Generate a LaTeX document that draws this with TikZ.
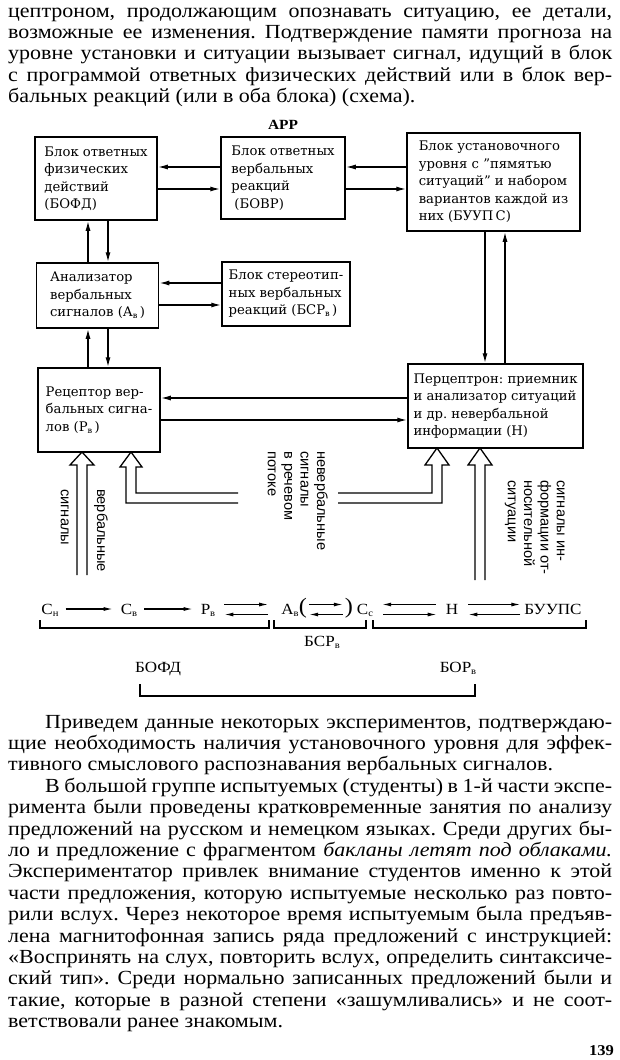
\documentclass[tikz,border=0pt]{standalone}
\usepackage{fontspec}
\usepackage{graphicx}
\setmainfont{Liberation Serif}[FakeStretch=1.1]
\newfontfamily\boxfont{DejaVu Serif}
\newfontfamily\rotfont{Liberation Sans}
\usetikzlibrary{arrows.meta,calc}
\newcommand\lsub[1]{\raisebox{-0.3ex}{\scalebox{0.62}{#1}}}
\newcommand\fl[1]{\makebox[604pt][s]{#1}}
\frenchspacing
\begin{document}
\begin{tikzpicture}[x=1pt,y=-1pt]
\tikzset{
  blk/.style={draw, line width=1.5pt, inner sep=0pt, align=left,
    font=\boxfont\fontsize{13.2}{17.5}\selectfont},
  arr/.style={line width=1.4pt, -{Latex[length=10pt,width=5pt]}},
  farr/.style={line width=1.1pt, -{Latex[length=9pt,width=4pt]}},
  hollow/.style={line width=1.3pt, line join=miter},
  body/.style={anchor=base west, inner sep=0pt, font=\fontsize{20}{21.4}\selectfont},
  rot/.style={rotate=-90, anchor=north west, inner sep=0pt, align=left,
    font=\rotfont\fontsize{14.6}{16.4}\selectfont},
  fml/.style={inner sep=0pt, anchor=base, font=\fontsize{15.5}{18}\selectfont},
  brk/.style={line width=1.2pt},
}
\useasboundingbox (0,0) rectangle (620,1060);
\fill[white] (0,0) rectangle (620,1060);

% top paragraph
\node[body] (t1) at (8,17) {\fl{цептроном, продолжающим опознавать ситуацию, ее детали,}};
\node[body] (t2) at (8,38.4) {\fl{возможные ее изменения. Подтверждение памяти прогноза на}};
\node[body] (t3) at (8,59.8) {\fl{уровне установки и ситуации вызывает сигнал, идущий в блок}};
\node[body] (t4) at (8,81.2) {\fl{с программой ответных физических действий или в блок вер-}};
\node[body] (t5) at (8,102.6) {бальных реакций (или в оба блока) (схема).};

% boxes
\node[blk, minimum width=122pt, minimum height=83pt] (bofd) at (96,178.5)
  {Блок ответных\\физических\\действий\\(БОФД)};
\node[anchor=base, inner sep=0pt, font=\bfseries\fontsize{14}{16}\selectfont] (apr) at (283,129) {АРР};
\node[blk, minimum width=124pt, minimum height=82pt] (bovr) at (283,178)
  {Блок ответных\\вербальных\\реакций\\\hspace{3pt}(БОВР)};
\node[blk, minimum width=173pt, minimum height=98pt] (buups) at (493.5,182)
  {Блок установочного\\уровня с ”пямятью\\ситуаций” и набором\\вариантов каждой из\\них (БУУП\,С)};
\node[blk, minimum width=122pt, minimum height=65pt] (av) at (97.5,295.5)
  {Анализатор\\вербальных\\сигналов (А\lsub{в}\,)};
\node[blk, minimum width=128pt, minimum height=64pt] (bsr) at (286,294)
  {Блок стереотип-\\ных вербальных\\реакций (БСР\lsub{в}\,)};
\node[blk, minimum width=122pt, minimum height=84pt] (rv) at (99,410)
  {Рецептор вер-\\бальных сигна-\\лов (Р\lsub{в}\,)};
\node[blk, minimum width=175pt, minimum height=84pt] (nn) at (495.5,406)
  {Перцептрон: приемник\\и анализатор ситуаций\\и др. невербальной\\информации (Н)};

% guide coordinates
\coordinate (xu) at (88,0);
\coordinate (xd) at (108,0);
\coordinate (xn) at (485,0);
\coordinate (xm) at (505,0);
\coordinate (ya) at (0,167);
\coordinate (yb) at (0,189);
\coordinate (yc) at (0,283);
\coordinate (yd) at (0,305);
\coordinate (ye) at (0,398);
\coordinate (yf) at (0,420);

% solid arrows
\draw[arr] (xu |- av.north) -- (xu |- bofd.south);
\draw[arr] (xd |- bofd.south) -- (xd |- av.north);
\draw[arr] (xu |- rv.north) -- (xu |- av.south);
\draw[arr] (xd |- av.south) -- (xd |- rv.north);
\draw[arr] (bovr.west |- ya) -- (bofd.east |- ya);
\draw[arr] (bofd.east |- yb) -- (bovr.west |- yb);
\draw[arr] (buups.west |- ya) -- (bovr.east |- ya);
\draw[arr] (bovr.east |- yb) -- (buups.west |- yb);
\draw[arr] (bsr.west |- yc) -- (av.east |- yc);
\draw[arr] (av.east |- yd) -- (bsr.west |- yd);
\draw[arr] (nn.west |- ye) -- (rv.east |- ye);
\draw[arr] (rv.east |- yf) -- (nn.west |- yf);
\draw[arr] (xn |- buups.south) -- (xn |- nn.north);
\draw[arr] (xm |- nn.north) -- (xm |- buups.south);

% hollow arrows
\coordinate (h1) at (82,452);
\coordinate (h2) at (131,452);
\coordinate (h3) at (437,448);
\coordinate (h4) at (480,448);
\draw[hollow] (h1) ++(-5,123) -- ++(0,-110) -- ++(-7,0) -- (h1) -- ++(12,13) -- ++(-7,0) -- ++(0,110);
\draw[hollow] (h2) ++(107,51) -- ++(-112,0) -- ++(0,-36) -- ++(-6,0) -- (h2) -- ++(11,15) -- ++(-6,0) -- ++(0,26) -- ++(102,0);
\draw[hollow] (h3) ++(-99,45) -- ++(94,0) -- ++(0,-28) -- ++(-7,0) -- (h3) -- ++(12,17) -- ++(-7,0) -- ++(0,38) -- ++(-104,0);
\draw[hollow] (h4) ++(-5,132) -- ++(0,-115) -- ++(-7,0) -- (h4) -- ++(12,17) -- ++(-7,0) -- ++(0,115);

% rotated labels
\node[rot] (lv) at (108,489) {вербальные};
\node[rot] (ls) at (69,489) {сигналы};
\node[rot] (lnv) at (328,451) {невербальные\\сигналы\\в речевом\\потоке};
\node[rot] (lsi) at (565,480) {сигналы ин-\\формации от-\\носительной\\ситуации};

% formula row
\coordinate (r0) at (0,609);
\coordinate (r1) at (0,604.5);
\coordinate (r2) at (0,614.5);
\node[fml] (f1) at (50,614) {С\lsub{н}};
\node[fml] (f2) at (129,614) {С\lsub{в}};
\node[fml] (f3) at (208,614) {Р\lsub{в}};
\node[fml] (f4) at (290,614) {А\lsub{в}};
\node[inner sep=0pt, font=\fontsize{22}{24}\selectfont] (lp) at (303,608) {(};
\node[inner sep=0pt, font=\fontsize{22}{24}\selectfont] (rp) at (349,608) {)};
\node[fml] (f5) at (365,614) {С\lsub{с}};
\node[fml] (f6) at (452,614) {Н};
\node[fml] (f7) at (553,614) {БУУПС};
\node[fml] (f8) at (322,646) {БСР\lsub{в}};
\node[fml] (f9) at (158,672) {БОФД};
\node[fml] (f10) at (458,672) {БОР\lsub{в}};

\draw[farr, shorten <=7pt, shorten >=8pt] (f1.east |- r0) -- (f2.west |- r0);
\draw[farr, shorten <=7pt, shorten >=8pt] (f2.east |- r0) -- (f3.west |- r0);
\draw[farr, shorten <=9pt, shorten >=13pt] (f3.east |- r1) -- (f4.west |- r1);
\draw[farr, shorten <=13pt, shorten >=9pt] (f4.west |- r2) -- (f3.east |- r2);
\draw[farr, shorten <=2pt, shorten >=2pt] (lp.east |- r1) -- (rp.west |- r1);
\draw[farr, shorten <=2pt, shorten >=2pt] (rp.west |- r2) -- (lp.east |- r2);
\draw[farr, shorten <=10pt, shorten >=9pt] (f6.west |- r1) -- (f5.east |- r1);
\draw[farr, shorten <=10pt, shorten >=9pt] (f5.east |- r2) -- (f6.west |- r2);
\draw[farr, shorten <=10pt, shorten >=4pt] (f6.east |- r1) -- (f7.west |- r1);
\draw[farr, shorten <=4pt, shorten >=10pt] (f7.west |- r2) -- (f6.east |- r2);

% brackets
\draw[brk] (40,620) |- (269,628) -- (269,620);
\draw[brk] (274,620) |- (366,628) -- (366,620);
\draw[brk] (373,620) |- (586,628) -- (586,620);
\draw[brk] (140,684) |- (475,696) -- (475,684);

% bottom text
\node[body] (b1) at (45,728) {\makebox[567pt][s]{Приведем данные некоторых экспериментов, подтверждаю-}};
\node[body] (b2) at (8,749.4) {\fl{щие необходимость наличия установочного уровня для эффек-}};
\node[body] (b3) at (8,770.8) {тивного смыслового распознавания вербальных сигналов.};
\node[body] (b4) at (45,792.2) {\makebox[567pt][s]{В большой группе испытуемых (студенты) в 1-й части экспе-}};
\node[body] (b5) at (8,813.6) {\fl{римента были проведены кратковременные занятия по анализу}};
\node[body] (b6) at (8,835) {\fl{предложений на русском и немецком языках. Среди других бы-}};
\node[body] (b7) at (8,856.4) {\fl{ло и предложение с фрагментом \textit{бакланы летят под облаками.}}};
\node[body] (b8) at (8,877.8) {\fl{Экспериментатор привлек внимание студентов именно к этой}};
\node[body] (b9) at (8,899.2) {\fl{части предложения, которую испытуемые несколько раз повто-}};
\node[body] (b10) at (8,920.6) {\fl{рили вслух. Через некоторое время испытуемым была предъяв-}};
\node[body] (b11) at (8,942) {\fl{лена магнитофонная запись ряда предложений с инструкцией:}};
\node[body] (b12) at (8,963.4) {\fl{«Воспринять на слух, повторить вслух, определить синтаксиче-}};
\node[body] (b13) at (8,984.8) {\fl{ский тип». Среди нормально записанных предложений были и}};
\node[body] (b14) at (8,1006.2) {\fl{такие, которые в разной степени «зашумливались» и не соот-}};
\node[body] (b15) at (8,1027.6) {ветствовали ранее знакомым.};
\node[anchor=base east, inner sep=0pt, font=\bfseries\fontsize{15}{17}\selectfont] (pg) at (614,1055) {139};
\end{tikzpicture}
\end{document}
